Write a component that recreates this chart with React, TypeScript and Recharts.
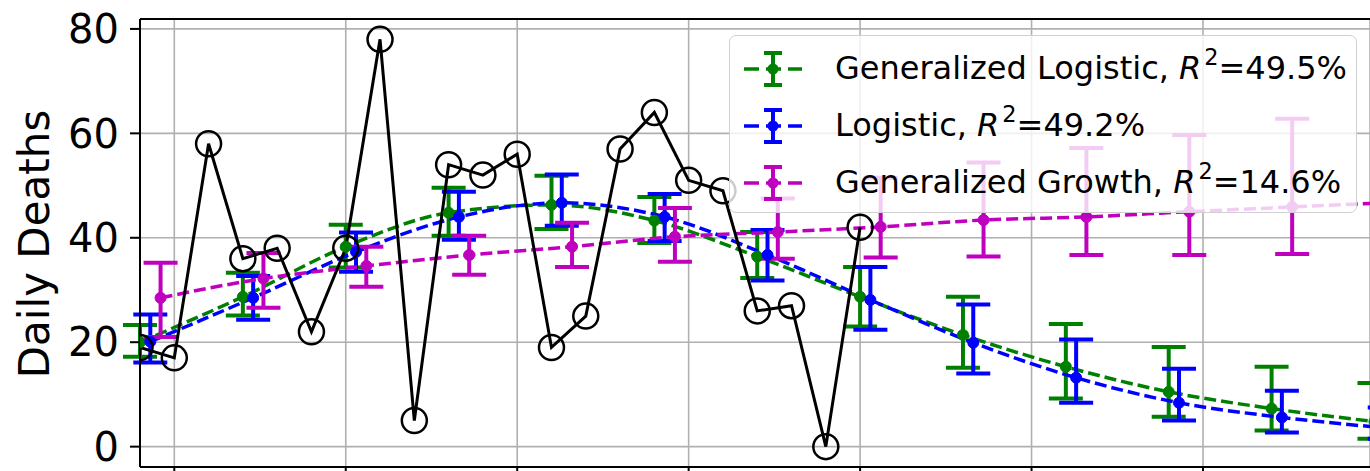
import React from 'react';
import {
  ComposedChart, Line, XAxis, YAxis, CartesianGrid, ErrorBar,
  ReferenceLine, Legend, Label,
} from 'recharts';

// observed daily deaths
const obsDays = [0, 1, 2, 3, 4, 5, 6, 7, 8, 9, 10, 11, 12, 13, 14, 15, 16, 17, 18, 19, 20, 21];
const obsDeaths = [19, 17, 58, 36, 38, 22, 38, 78, 5, 54, 52, 56, 19, 25, 57, 64, 51, 49, 26, 27, 0, 42];

// generalized logistic fit
const glDays = [0, 3, 6, 9, 12, 15, 18, 21, 24, 27, 30, 33, 36];
const glMid = [20.0, 28.7, 38.3, 44.8, 46.3, 43.3, 36.4, 28.7, 21.4, 15.3, 10.5, 7.3, 4.8];
const glLow = [17.2, 25.1, 34.3, 40.4, 41.7, 39.0, 32.3, 23.0, 15.1, 9.2, 5.7, 3.1, 1.5];
const glHigh = [23.3, 33.3, 42.5, 49.6, 51.9, 47.8, 41.1, 34.4, 28.7, 23.5, 19.1, 15.3, 12.2];

// logistic fit
const lgDays = [0.3, 3.3, 6.3, 9.3, 12.3, 15.3, 18.3, 21.3, 24.3, 27.3, 30.3, 33.3, 36.3];
const lgMid = [20.1, 28.5, 37.3, 44.0, 46.7, 44.0, 36.7, 28.1, 19.9, 13.2, 8.4, 5.6, 3.6];
const lgLow = [16.1, 24.3, 33.5, 39.6, 42.3, 39.4, 31.8, 22.4, 14.0, 8.4, 5.0, 2.7, 1.5];
const lgHigh = [25.3, 32.7, 41.0, 48.8, 52.1, 48.4, 41.5, 34.4, 27.2, 20.5, 14.9, 10.7, 7.5];

// generalized growth fit
const ggDays = [0.6, 3.6, 6.6, 9.6, 12.6, 15.6, 18.6, 21.6, 24.6, 27.6, 30.6, 33.6, 36.6];
const ggMid = [28.5, 32.2, 34.6, 36.7, 38.3, 40.2, 41.1, 42.1, 43.4, 44.0, 45.0, 45.9, 46.8];
const ggLow = [21.0, 26.6, 30.6, 32.9, 34.4, 35.4, 36.0, 36.2, 36.4, 36.7, 36.7, 36.9, 37.0];
const ggHigh = [35.2, 37.1, 38.3, 40.4, 42.9, 45.7, 47.5, 51.5, 54.4, 57.2, 59.7, 62.8, 66.0];

const xTicks = [1, 6, 11, 16, 21, 26, 31];
const yTicks = [0, 20, 40, 60, 80];
const X_DOMAIN: [number, number] = [0, 35.87];
const Y_DOMAIN: [number, number] = [-3.9, 81.9];

const FONT = '"DejaVu Sans", sans-serif';

const toRows = (days: number[], mid: number[], low: number[], high: number[]) =>
  days.map((d, i) => ({ x: d, y: mid[i], err: [mid[i] - low[i], high[i] - mid[i]] }));

const obsRows = obsDays.map((d, i) => ({ x: d, y: obsDeaths[i] }));

const fits = [
  { name: 'Generalized Logistic', r2: '49.5%', color: '#008000', rows: toRows(glDays, glMid, glLow, glHigh) },
  { name: 'Logistic', r2: '49.2%', color: '#0000ff', rows: toRows(lgDays, lgMid, lgLow, lgHigh) },
  { name: 'Generalized Growth', r2: '14.6%', color: '#bf00bf', rows: toRows(ggDays, ggMid, ggLow, ggHigh) },
];

const LegendHandle = ({ color }: { color: string }) => (
  <svg width={60} height={40} style={{ display: 'block' }}>
    <line x1={0} y1={20} x2={58} y2={20} stroke={color} strokeWidth={3.5} strokeDasharray="15 7" />
    <line x1={29} y1={4} x2={29} y2={36} stroke={color} strokeWidth={4} />
    <line x1={20} y1={4} x2={38} y2={4} stroke={color} strokeWidth={4} />
    <line x1={20} y1={36} x2={38} y2={36} stroke={color} strokeWidth={4} />
    <circle cx={29} cy={20} r={5.5} fill={color} />
  </svg>
);

const LegendBox = () => (
  <div
    style={{
      position: 'relative', width: 628, height: 178, boxSizing: 'border-box',
      border: '1.5px solid #d0d0d0', borderRadius: 7, background: 'rgba(255,255,255,0.8)',
      fontFamily: FONT, fontSize: 32, color: '#000',
    }}
  >
    {fits.map((f, i) => (
      <div
        key={f.name}
        style={{
          position: 'absolute', left: 0, top: 5 + i * 57, height: 56, width: '100%',
          display: 'flex', alignItems: 'center', whiteSpace: 'nowrap',
        }}
      >
        <div style={{ width: 14 }} />
        <LegendHandle color={f.color} />
        <div style={{ marginLeft: 31, lineHeight: '56px' }}>
          {f.name}, <i>R</i>
          <span style={{ fontSize: '0.7em', position: 'relative', top: '-0.6em', marginLeft: 3 }}>2</span>
          ={f.r2}
        </div>
      </div>
    ))}
  </div>
);

const YLabel = () => (
  <text
    x={49}
    y={244}
    transform="rotate(-90 49 244)"
    textAnchor="middle"
    fontSize={42}
    fontFamily={FONT}
    fill="#000"
  >
    Daily Deaths
  </text>
);

export default function App() {
  return (
    <div style={{ position: 'absolute', left: 0, top: 0, width: 1370, height: 471, background: '#fff', overflow: 'hidden' }}>
      <ComposedChart width={1370} height={471} margin={{ top: 19, right: 0, bottom: 0, left: 0 }}>
        <CartesianGrid stroke="#b0b0b0" strokeWidth={1.6} />
        <XAxis
          type="number"
          dataKey="x"
          domain={X_DOMAIN}
          allowDataOverflow
          ticks={xTicks}
          interval={0}
          height={4}
          tickFormatter={() => ''}
          tick={{ fontSize: 1 }}
          tickSize={10}
          axisLine={{ stroke: '#000', strokeWidth: 2 }}
          tickLine={{ stroke: '#000', strokeWidth: 2 }}
        />
        <YAxis
          type="number"
          domain={Y_DOMAIN}
          allowDataOverflow
          ticks={yTicks}
          width={140}
          tickSize={10}
          tickMargin={11}
          tick={{ fontSize: 40, fill: '#000', fontFamily: FONT }}
          axisLine={{ stroke: '#000', strokeWidth: 2 }}
          tickLine={{ stroke: '#000', strokeWidth: 2 }}
        >
          <Label content={<YLabel />} />
        </YAxis>
        <ReferenceLine y={Y_DOMAIN[1]} stroke="#000" strokeWidth={2} />
        {fits.map((f) => (
          <Line
            key={f.name}
            name={f.name}
            data={f.rows}
            dataKey="y"
            type="monotone"
            stroke={f.color}
            strokeWidth={3.5}
            strokeDasharray="12 5"
            dot={{ r: 5.5, fill: f.color, stroke: f.color, strokeWidth: 1, strokeDasharray: 'none' }}
            activeDot={false}
            isAnimationActive={false}
          >
            <ErrorBar dataKey="err" direction="y" width={17} strokeWidth={4} stroke={f.color} isAnimationActive={false} />
          </Line>
        ))}
        <Line
          data={obsRows}
          dataKey="y"
          type="linear"
          stroke="#000"
          strokeWidth={3}
          dot={{ r: 12.5, fill: 'none', stroke: '#000', strokeWidth: 2.5 }}
          activeDot={false}
          legendType="none"
          isAnimationActive={false}
        />
        <Legend
          layout="vertical"
          align="center"
          verticalAlign="middle"
          content={<LegendBox />}
          wrapperStyle={{ position: 'absolute', left: 729, top: 35, width: 628, height: 178 }}
        />
      </ComposedChart>
    </div>
  );
}
